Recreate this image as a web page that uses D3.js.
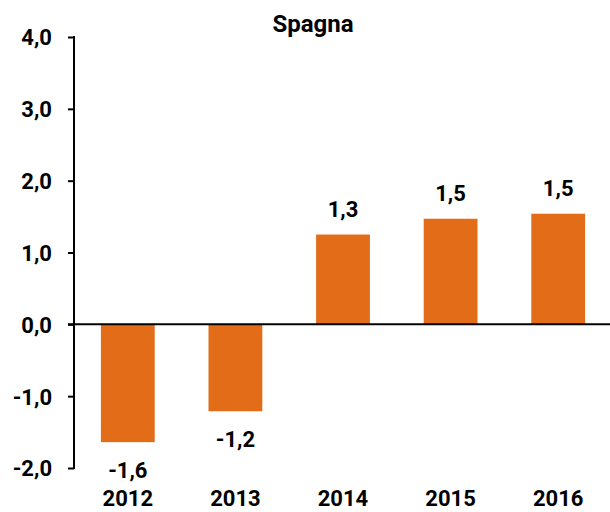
<!DOCTYPE html>
<html>
<head>
<meta charset="utf-8">
<script src="https://cdn.jsdelivr.net/npm/d3@7"></script>
<style>
	body { margin: 0; background: #fff; }
	svg text { font-family: Roboto, "DejaVu Sans Condensed", sans-serif; font-weight: bold; fill: #000; }
</style>
</head>
<body>
<svg id="chart" width="610" height="512"></svg>
<script>

var title = "Spagna";
var years = [ "2012", "2013", "2014", "2015", "2016" ];
var values = [ -1.64, -1.21, 1.25, 1.47, 1.54 ];
var labels = [ "-1,6", "-1,2", "1,3", "1,5", "1,5" ];
var yTicks = [ -2, -1, 0, 1, 2, 3, 4 ];

var margin = {
	top: 37,
	right: 0,
	bottom: 44,
	left: 74
};

var svg = d3.select("#chart");

var width = 610 - margin.left - margin.right;
var height = 512 - margin.top - margin.bottom;

var g = svg.append("g")
	.attr("transform", `translate(${margin.left},${margin.top})`);

var x = d3.scaleBand()
	.domain(years)
	.range([0, width + 2])
	.paddingInner(0.5)
	.paddingOuter(0.25);

var y = d3.scaleLinear()
	.domain([-2, 4])
	.range([height, 0]);

// comma decimal, plain hyphen for minus
var fmt = d => d.toFixed(1).replace(".", ",");

// y axis
var yAxis = g.append("g")
	.call(d3.axisLeft(y).tickValues(yTicks).tickSize(6).tickPadding(16).tickFormat(fmt));

yAxis.select(".domain").remove();
yAxis.selectAll(".tick line").attr("stroke", "#000").attr("stroke-width", 2);
yAxis.selectAll(".tick text").attr("font-size", 22).attr("dy", "0.36em");

g.append("line")
	.attr("x1", 0).attr("x2", 0)
	.attr("y1", y(4) - 1).attr("y2", y(-2) + 1)
	.attr("stroke", "#000")
	.attr("stroke-width", 2);

// bars
g.selectAll(".bar")
	.data(values)
	.join("rect")
	.attr("class", "bar")
	.attr("x", (d, i) => x(years[i]))
	.attr("width", x.bandwidth())
	.attr("y", d => y(Math.max(0, d)))
	.attr("height", d => Math.abs(y(d) - y(0)))
	.attr("fill", "#e36c18");

// zero line
g.append("line")
	.attr("x1", -6).attr("x2", width)
	.attr("y1", y(0)).attr("y2", y(0))
	.attr("stroke", "#000")
	.attr("stroke-width", 2);

// value labels
g.selectAll(".val")
	.data(values)
	.join("text")
	.attr("class", "val")
	.attr("x", (d, i) => x(years[i]) + x.bandwidth() / 2)
	.attr("y", d => d >= 0 ? y(d) - 18 : y(d) + 36)
	.attr("text-anchor", "middle")
	.attr("font-size", 22)
	.text((d, i) => labels[i]);

// year labels
g.selectAll(".year")
	.data(years)
	.join("text")
	.attr("class", "year")
	.attr("x", d => x(d) + x.bandwidth() / 2)
	.attr("y", height + 38)
	.attr("text-anchor", "middle")
	.attr("font-size", 22)
	.text(d => d);

// title
svg.append("text")
	.attr("x", 313)
	.attr("y", 32)
	.attr("text-anchor", "middle")
	.attr("font-size", 24)
	.text(title);

</script>
</body>
</html>
